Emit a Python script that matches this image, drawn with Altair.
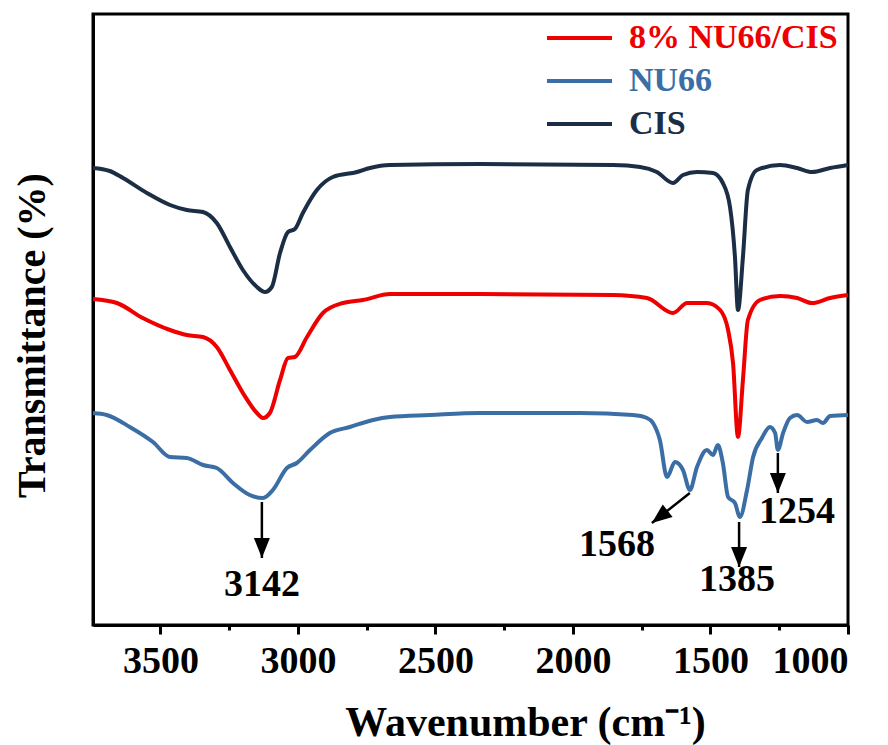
import altair as alt
import pandas as pd

# ---------------- data ----------------
samples = ["8% NU66/CIS", "NU66", "CIS"]
colors = ["#ee0000", "#3b6ea5", "#1b2e45"]

cis_wn = [3745, 3684, 3636, 3549, 3465, 3404, 3345, 3295, 3247, 3200, 3149, 3120, 3095, 3065,
          3036, 3011, 2982, 2931, 2873, 2785, 2738, 2665, 2338, 1855, 1756, 1695, 1636, 1600,
          1549, 1491, 1455, 1429, 1411, 1400, 1382, 1364, 1331, 1247, 1185, 1131, 1065, 1000]
cis_t = [457, 454, 447, 432, 420, 415, 413, 402, 378, 355, 338, 333, 338, 372,
         393, 396, 412, 435, 448, 453, 457, 460, 461, 460, 458, 453, 442, 450,
         453, 452, 442, 418, 368, 315, 368, 435, 455, 460, 457, 453, 457, 460]

mix_wn = [3745, 3658, 3564, 3465, 3404, 3345, 3295, 3247, 3200, 3149, 3127, 3102, 3065, 3036,
          3011, 2967, 2909, 2836, 2764, 2665, 2338, 1855, 1731, 1636, 1585, 1513, 1465, 1436,
          1418, 1400, 1382, 1364, 1320, 1247, 1185, 1131, 1065, 1000]
mix_t = [326, 322, 307, 295, 290, 288, 278, 255, 232, 212, 207, 212, 245, 267,
         268, 288, 312, 322, 325, 331, 331, 330, 327, 312, 322, 322, 315, 295,
         262, 188, 245, 305, 325, 329, 327, 322, 327, 330]

nu_wn = [3745, 3695, 3611, 3527, 3465, 3404, 3345, 3295, 3236, 3175, 3127, 3091, 3040, 3004,
         2956, 2884, 2811, 2727, 2665, 2520, 2338, 1975, 1782, 1731, 1709, 1684, 1658, 1629,
         1600, 1575, 1549, 1513, 1491, 1473, 1455, 1436, 1411, 1393, 1367, 1345, 1313, 1284,
         1265, 1255, 1236, 1211, 1185, 1149, 1113, 1091, 1065, 1000]
nu_t = [212, 210, 198, 183, 168, 167, 160, 157, 142, 130, 127, 135, 157, 162,
        175, 192, 198, 205, 208, 210, 212, 212, 210, 207, 202, 185, 148, 163,
        155, 135, 158, 175, 170, 180, 162, 128, 122, 108, 135, 168, 187, 198,
        192, 175, 192, 207, 210, 203, 205, 202, 209, 210]

# peak annotations
ann_label = ["3142", "1568", "1385", "1254"]
ann_x0 = [3131, 1575, 1396, 1255]
ann_y0 = [123, 132, 103, 172]
ann_x1 = [3131, 1713, 1396, 1255]
ann_y1 = [67, 102, 58, 132]
ann_angle = [0, 52, 0, 0]
ann_tx = [3131, 1840, 1404, 1185]
ann_ty = [40, 80, 45, 113]

x_ticks = [3500, 3250, 3000, 2750, 2500, 2250, 2000, 1750, 1500, 1250, 1000]

# ---------------- tables ----------------
spec = pd.concat([
    pd.DataFrame({"wn": nu_wn, "t": nu_t, "sample": "NU66"}),
    pd.DataFrame({"wn": mix_wn, "t": mix_t, "sample": "8% NU66/CIS"}),
    pd.DataFrame({"wn": cis_wn, "t": cis_t, "sample": "CIS"}),
], ignore_index=True)

ann = pd.DataFrame({"label": ann_label, "x0": ann_x0, "y0": ann_y0, "x1": ann_x1,
                    "y1": ann_y1, "ang": ann_angle, "tx": ann_tx, "ty": ann_ty})

FONT = "Liberation Serif"
XTITLE = "Wavenumber (cm\u207b\u00b9)"
YTITLE = "Transmittance (%)"

xscale = alt.Scale(domain=[1000, 3745], reverse=True, nice=False, zero=False)
yscale = alt.Scale(domain=[0, 611], nice=False, zero=False)

x_axis = alt.Axis(
    values=x_ticks, format="d",
    labelExpr="datum.value % 500 === 0 ? datum.label : ''",
    tickSize={"condition": {"test": "datum.value % 500 === 0", "value": 9}, "value": 5},
    tickWidth=3, tickColor="black", domainColor="black", domainWidth=3,
    labelFont=FONT, labelFontWeight="bold", labelFontSize=38, labelColor="black",
    labelPadding=8, grid=False,
    titleFont=FONT, titleFontWeight="bold", titleFontSize=42, titleColor="black",
    titleX=432, titleY=110, titleAlign="center", titleBaseline="alphabetic",
)
y_axis = alt.Axis(
    ticks=False, labels=False, grid=False, domainColor="black", domainWidth=3,
    titleFont=FONT, titleFontWeight="bold", titleFontSize=40, titleColor="black",
    titleX=-49, titleY=321, titleBaseline="alphabetic", titleAngle=270,
)

lines = alt.Chart(spec).mark_line(strokeWidth=4, interpolate="monotone").encode(
    x=alt.X("wn:Q", scale=xscale, axis=x_axis, title=XTITLE),
    y=alt.Y("t:Q", scale=yscale, axis=y_axis, title=YTITLE),
    color=alt.Color(
        "sample:N",
        scale=alt.Scale(domain=samples, range=colors),
        legend=alt.Legend(
            orient="none", legendX=452, legendY=6, title=None,
            symbolType="stroke", symbolSize=4225, symbolStrokeWidth=4,
            labelFont=FONT, labelFontWeight="bold", labelFontSize=34,
            labelOffset=15, labelLimit=400, clipHeight=36, rowPadding=7, padding=0,
            labelColor={"expr": "scale('color', datum.value)"},
        ),
    ),
    detail="sample:N",
)

rules = alt.Chart(ann).mark_rule(color="black", strokeWidth=2.5).encode(
    x=alt.X("x0:Q", scale=xscale, title=XTITLE),
    x2="x1:Q",
    y=alt.Y("y0:Q", scale=yscale, title=YTITLE),
    y2="y1:Q",
)

heads = alt.Chart(ann).mark_point(
    shape="M0,0L-0.8,-2L0.8,-2Z", size=400, filled=True, color="black", opacity=1
).encode(
    x=alt.X("x1:Q", scale=xscale, title=XTITLE),
    y=alt.Y("y1:Q", scale=yscale, title=YTITLE),
    angle=alt.Angle("ang:Q", scale=None),
)

texts = alt.Chart(ann).mark_text(
    font=FONT, fontWeight="bold", fontSize=38, color="black",
    align="center", baseline="middle",
).encode(
    x=alt.X("tx:Q", scale=xscale, title=XTITLE),
    y=alt.Y("ty:Q", scale=yscale, title=YTITLE),
    text="label:N",
)

chart = alt.layer(lines, rules, heads, texts).properties(
    width=755, height=611,
    autosize=alt.AutoSizeParams(type="none"),
    padding={"left": 93, "top": 14, "right": 40, "bottom": 120},
    background="white",
).configure_view(stroke="black", strokeWidth=3)

chart.save("out.html", embed_options={"renderer": "svg", "actions": False})
